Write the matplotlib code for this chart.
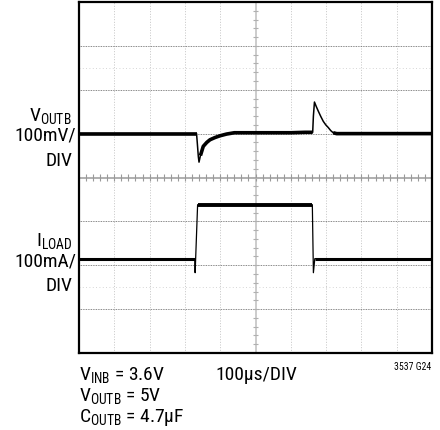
import matplotlib
matplotlib.use("Agg")
import matplotlib.pyplot as plt
from matplotlib import font_manager as fm
import numpy as np

# ---------------- data ----------------
# V_OUTB trace: time (us) vs deviation (mV)
vout_t = [0, 333, 335, 338, 340, 344, 352, 362, 371, 385, 399, 418, 440, 500, 600, 640,
          662, 664, 667, 672, 678, 685, 692, 699, 706, 713, 720, 730, 1000]
vout_mv = [0, 0, -20, -52, -65, -50, -29, -20, -14, -9, -5, -1, 2, 2, 2, 3,
           3, 40, 72, 62, 51, 39, 28, 20, 14, 7, 2, 0, 0]
# I_LOAD trace: time (us) vs current (mA)
iload_t = [0, 328, 329, 336, 661, 664, 668, 1000]
iload_ma = [0, 0, -32, 123, 123, -32, 0, 0]

vout_label = ["$\\mathregular{V_{OUTB}}$", "100mV/", "DIV"]
iload_label = ["$\\mathregular{I_{LOAD}}$", "100mA/", "DIV"]
cond_lines = ["$\\mathregular{V_{INB}}$ = 3.6V", "$\\mathregular{V_{OUTB}}$ = 5V",
              "$\\mathregular{C_{OUTB}}$ = 4.7µF"]
timebase = "100µs/DIV"
fig_id = "3537 G24"

# ---------------- style ----------------
names = {f.name for f in fm.fontManager.ttflist}
fam = "DejaVu Sans"
for cand in ["Liberation Sans Narrow", "Roboto Condensed", "Archivo Narrow",
             "Barlow Semi Condensed", "Asap Condensed"]:
    if cand in names:
        fam = cand
        break
plt.rcParams["font.family"] = [fam, "DejaVu Sans"]
plt.rcParams["mathtext.fontset"] = "custom"
plt.rcParams["mathtext.rm"] = fam

W, H = 440, 431
fig = plt.figure(figsize=(W / 100, H / 100), dpi=100)
L, R, T, B = 79, 432, 3, 354
ax = fig.add_axes([L / W, 1 - B / H, (R - L) / W, (B - T) / H])
ax.set_xlim(0, 10)
ax.set_ylim(0, 8)
ax.set_xticks([]); ax.set_yticks([])
for s in ax.spines.values():
    s.set_linewidth(1.6)
    s.set_color("black")

# grid
for k in range(1, 10):
    if k != 5:
        ax.axvline(k, color="#bcbcbc", lw=0.6, ls=(0, (1.2, 2)), zorder=1)
for k in range(1, 8):
    if k != 4:
        ax.axhline(k, color="#606060", lw=0.6, ls=(0, (1, 1)), zorder=1)
for k in (1.5, 6.5):
    ax.axhline(k, color="#c8c8c8", lw=0.6, ls=(0, (1, 3)), zorder=1)
ax.axvline(5, color="#c4c4c4", lw=1.2, zorder=1)
ax.axhline(4, color="#9a9a9a", lw=1.1, zorder=1)
tk = np.arange(0.2, 10, 0.2)
ax.vlines(tk, 4 - 0.07, 4 + 0.07, color="#9a9a9a", lw=0.8, zorder=1)
tk2 = np.arange(0.2, 8, 0.2)
ax.hlines(tk2, 5 - 0.07, 5 + 0.07, color="#b0b0b0", lw=0.8, zorder=1)

# traces (division units)
US_PER_DIV = 100.0
V_OFF, MV_PER_DIV = 5.0, 100.0
I_OFF, MA_PER_DIV = 2.15, 100.0
vx = np.array(vout_t) / US_PER_DIV
vy = V_OFF + np.array(vout_mv) / MV_PER_DIV
ix = np.array(iload_t) / US_PER_DIV
iy = I_OFF + np.array(iload_ma) / MA_PER_DIV

ax.plot(vx, vy, color="black", lw=1.1, zorder=3)
ax.plot(vx[:2], vy[:2], color="black", lw=2.6, zorder=3, solid_capstyle="butt")
ax.plot(vx[5:17], vy[5:17], color="black", lw=2.6, zorder=3, solid_capstyle="butt")
ax.plot(vx[-3:], vy[-3:], color="black", lw=2.6, zorder=3, solid_capstyle="butt")
ax.plot(ix, iy, color="black", lw=0.9, zorder=3)
ax.plot(ix[:2], iy[:2], color="black", lw=2.2, zorder=3, solid_capstyle="butt")
ax.plot(ix[3:5], iy[3:5], color="black", lw=2.8, zorder=3, solid_capstyle="butt")
ax.plot(ix[-2:], iy[-2:], color="black", lw=2.2, zorder=3, solid_capstyle="butt")

def px(x, y):
    return x / W, 1 - y / H

FS = 14
for txt, y, x in zip(vout_label, [121, 141, 166], [72, 76, 72]):
    fig.text(*px(x, y), txt, ha="right", va="baseline", fontsize=FS)
for txt, y, x in zip(iload_label, [246, 266, 291], [72, 76, 72]):
    fig.text(*px(x, y), txt, ha="right", va="baseline", fontsize=FS)
for txt, y in zip(cond_lines, [380, 401, 422]):
    fig.text(*px(79, y), txt, ha="left", va="baseline", fontsize=FS)
fig.text(*px(215, 380), timebase, ha="left", va="baseline", fontsize=FS)
fig.text(*px(431, 370), fig_id, ha="right", va="baseline", fontsize=7)

fig.savefig("out.png", dpi=100)
